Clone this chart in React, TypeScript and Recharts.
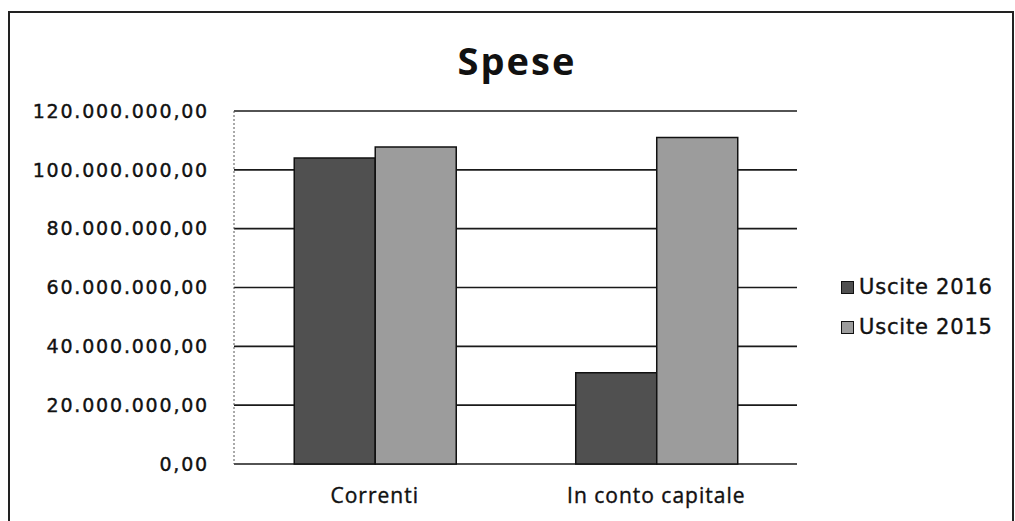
import { BarChart, Bar, XAxis, YAxis, CartesianGrid } from "recharts";

const categories = ["Correnti", "In conto capitale"];
const uscite2016 = [104000000, 31000000];
const uscite2015 = [107800000, 111000000];
const yTicks = [0, 20000000, 40000000, 60000000, 80000000, 100000000, 120000000];
const seriesNames = ["Uscite 2016", "Uscite 2015"];
const seriesColors = ["#505050", "#9c9c9c"];

const data = categories.map((name, i) => ({
  name,
  u2016: uscite2016[i],
  u2015: uscite2015[i],
}));

// 120000000 -> "120.000.000,00"
const formatIt = (v: number) => {
  const [int, dec] = v.toFixed(2).split(".");
  return `${int.replace(/\B(?=(\d{3})+(?!\d))/g, ".")},${dec}`;
};

export default function App() {
  return (
    <div
      style={{
        position: "absolute",
        left: 0,
        top: 0,
        width: 1015,
        height: 521,
        background: "#fff",
        overflow: "hidden",
      }}
    >
      <div
        style={{
          position: "absolute",
          left: 8,
          top: 11,
          width: 1002,
          height: 530,
          borderLeft: "2px solid #222",
          borderTop: "2px solid #222",
          borderRight: "2px solid #222",
        }}
      />
      <div
        style={{
          position: "absolute",
          left: 417,
          top: 34,
          width: 200,
          textAlign: "center",
          fontFamily: "'Open Sans', sans-serif",
          fontWeight: 700,
          fontSize: 38,
          letterSpacing: 2,
          color: "#111",
        }}
      >
        Spese
      </div>
      <div style={{ position: "absolute", left: 0, top: 0 }}>
        <BarChart
          width={1015}
          height={521}
          data={data}
          margin={{ top: 111, right: 218, bottom: 27, left: 6 }}
          barCategoryGap="21.4%"
          barGap={0}
        >
          <CartesianGrid vertical={false} stroke="#1a1a1a" strokeWidth={1.6} />
          <XAxis
            dataKey="name"
            axisLine={false}
            tickLine={false}
            tickSize={0}
            tickMargin={24}
            tick={{
              fill: "#111",
              stroke: "#111",
              strokeWidth: 0.4,
              fontSize: 21,
              fontFamily: "'Open Sans', sans-serif",
              letterSpacing: 1,
            }}
          />
          <YAxis
            width={228}
            domain={[0, 120000000]}
            ticks={yTicks}
            tickFormatter={formatIt}
            axisLine={{ stroke: "#555", strokeDasharray: "2 2" }}
            tickLine={false}
            tickSize={0}
            tickMargin={25}
            tick={{
              fill: "#111",
              stroke: "#111",
              strokeWidth: 0.4,
              fontSize: 19,
              fontFamily: "'DejaVu Sans', sans-serif",
              letterSpacing: 1.8,
            }}
          />
          <Bar
            dataKey="u2016"
            name={seriesNames[0]}
            fill={seriesColors[0]}
            stroke="#111"
            strokeWidth={1.5}
            isAnimationActive={false}
          />
          <Bar
            dataKey="u2015"
            name={seriesNames[1]}
            fill={seriesColors[1]}
            stroke="#111"
            strokeWidth={1.5}
            isAnimationActive={false}
          />
        </BarChart>
      </div>
      {seriesNames.map((s, i) => (
        <div
          key={s}
          style={{
            position: "absolute",
            left: 841,
            top: 275 + i * 40,
            display: "flex",
            alignItems: "center",
            fontFamily: "'DejaVu Sans', sans-serif",
            fontSize: 21,
            letterSpacing: 0.8,
            color: "#111",
            WebkitTextStroke: "0.4px #111",
          }}
        >
          <span
            style={{
              display: "inline-block",
              width: 11,
              height: 11,
              background: seriesColors[i],
              border: "1px solid #111",
              marginRight: 5,
            }}
          />
          {s}
        </div>
      ))}
    </div>
  );
}
